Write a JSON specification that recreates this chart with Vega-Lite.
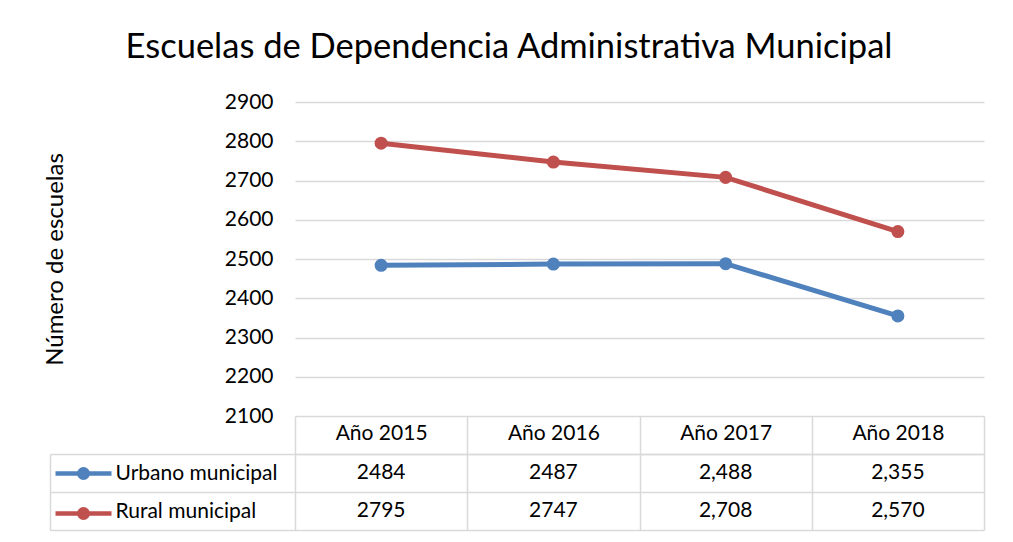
{
  "$schema": "https://vega.github.io/schema/vega-lite/v6.json",
  "padding": {"left": 43, "top": 29, "right": 5, "bottom": 5},
  "background": "white",
  "datasets": {
    "d": [
      {"year": "Año 2015", "series": "Urbano municipal", "value": 2484, "label": "2484"},
      {"year": "Año 2016", "series": "Urbano municipal", "value": 2487, "label": "2487"},
      {"year": "Año 2017", "series": "Urbano municipal", "value": 2488, "label": "2,488"},
      {"year": "Año 2018", "series": "Urbano municipal", "value": 2355, "label": "2,355"},
      {"year": "Año 2015", "series": "Rural municipal", "value": 2795, "label": "2795"},
      {"year": "Año 2016", "series": "Rural municipal", "value": 2747, "label": "2747"},
      {"year": "Año 2017", "series": "Rural municipal", "value": 2708, "label": "2,708"},
      {"year": "Año 2018", "series": "Rural municipal", "value": 2570, "label": "2,570"}
    ]
  },
  "title": {
    "text": "Escuelas de Dependencia Administrativa Municipal",
    "font": "Lato",
    "fontSize": 34.5,
    "fontWeight": "normal",
    "color": "#000000",
    "anchor": "middle",
    "dx": -5,
    "offset": 26
  },
  "config": {
    "view": {"stroke": null},
    "concat": {"spacing": 38},
    "font": "Lato"
  },
  "bounds": "flush",
  "vconcat": [
    {
      "width": 689,
      "height": 314,
      "data": {"name": "d"},
      "mark": {"type": "line", "strokeWidth": 5, "point": {"filled": true, "size": 170, "opacity": 1}},
      "encoding": {
        "x": {
          "field": "year", "type": "nominal",
          "sort": ["Año 2015", "Año 2016", "Año 2017", "Año 2018"],
          "scale": {"type": "point", "padding": 0.5},
          "axis": null
        },
        "y": {
          "field": "value", "type": "quantitative",
          "scale": {"domain": [2100, 2900], "nice": false, "zero": false},
          "axis": {
            "values": [2100, 2200, 2300, 2400, 2500, 2600, 2700, 2800, 2900],
            "format": "d",
            "title": "Número de escuelas",
            "titleFont": "Lato",
            "titleFontSize": 24,
            "titleFontWeight": "normal",
            "titleColor": "#000000",
            "titlePadding": 157,
            "grid": true,
            "gridColor": "#d9d9d9",
            "gridWidth": 1.5,
            "domain": false,
            "ticks": false,
            "labelPadding": 22,
            "labelFont": "Lato",
            "labelFontSize": 21,
            "labelColor": "#000000"
          }
        },
        "color": {
          "field": "series", "type": "nominal",
          "scale": {"domain": ["Urbano municipal", "Rural municipal"], "range": ["#4f81bd", "#c0504d"]},
          "legend": {
            "orient": "none",
            "direction": "vertical",
            "columns": 1,
            "legendX": -224,
            "legendY": 359,
            "title": null,
            "padding": 0,
            "symbolType": "M-2.8,0L2.8,0M-0.425,0A0.425,0.425 0 1,0 0.425,0A0.425,0.425 0 1,0 -0.425,0Z",
            "symbolSize": 400,
            "symbolStrokeWidth": 4.5,
            "symbolOpacity": 1,
            "rowPadding": 13,
            "labelExpr": "''",
            "labelFontSize": 1,
            "encode": {
              "symbols": {"update": {"fill": {"scale": "color", "field": "value"}, "stroke": {"scale": "color", "field": "value"}}}
            }
          }
        }
      }
    },
    {
      "width": 689,
      "height": 76,
      "data": {"name": "d"},
      "mark": {"type": "text", "font": "Lato", "fontSize": 21, "color": "#000000"},
      "encoding": {
        "x": {
          "field": "year", "type": "nominal",
          "sort": ["Año 2015", "Año 2016", "Año 2017", "Año 2018"],
          "scale": {"type": "band", "paddingInner": 0, "paddingOuter": 0},
          "axis": {
            "orient": "top",
            "title": null,
            "tickBand": "extent",
            "tickSize": 38,
            "tickColor": "#d9d9d9",
            "tickWidth": 1.5,
            "domain": true,
            "domainColor": "#d9d9d9",
            "domainWidth": 1.5,
            "grid": true,
            "gridColor": "#d9d9d9",
            "gridWidth": 1.5,
            "labelAngle": 0,
            "labelBaseline": "middle",
            "labelPadding": -17,
            "labelFont": "Lato",
            "labelFontSize": 21,
            "labelColor": "#000000"
          }
        },
        "y": {
          "field": "series", "type": "nominal",
          "sort": ["Urbano municipal", "Rural municipal"],
          "scale": {"type": "band", "paddingInner": 0, "paddingOuter": 0},
          "axis": {
            "orient": "left",
            "title": null,
            "offset": 245,
            "tickBand": "extent",
            "tickSize": -934,
            "tickColor": "#d9d9d9",
            "tickWidth": 1.5,
            "domain": true,
            "domainColor": "#d9d9d9",
            "domainWidth": 1.5,
            "grid": false,
            "labelAlign": "left",
            "labelBaseline": "middle",
            "labelPadding": 869,
            "labelFont": "Lato",
            "labelFontSize": 21,
            "labelColor": "#000000"
          }
        },
        "text": {"field": "label"}
      }
    }
  ]
}
